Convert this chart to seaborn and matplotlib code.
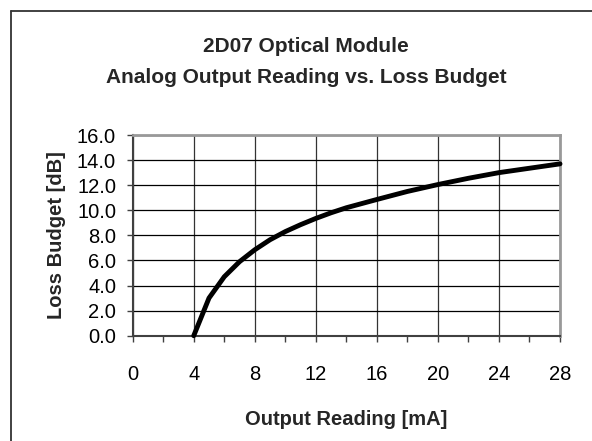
import numpy as np
import pandas as pd
import matplotlib
matplotlib.use("Agg")
import matplotlib.pyplot as plt
from matplotlib.lines import Line2D
import seaborn as sns

# Data
output_ma = [4, 5, 6, 7, 8, 9, 10, 11, 12, 13, 14, 16, 18, 20, 22, 24, 26, 28]
loss_db = [0.0, 3.0, 4.7, 5.9, 6.85, 7.65, 8.3, 8.85, 9.35, 9.8, 10.2,
           10.86, 11.5, 12.05, 12.55, 13.0, 13.35, 13.7]
x_ticks = [0, 4, 8, 12, 16, 20, 24, 28]
y_ticks = [0, 2, 4, 6, 8, 10, 12, 14, 16]
title_text = "2D07 Optical Module\nAnalog Output Reading vs. Loss Budget"
x_label = "Output Reading [mA]"
y_label = "Loss Budget [dB]"

sns.set_theme(style="white")
plt.rcParams['font.family'] = ['Liberation Sans', 'DejaVu Sans']

fig = plt.figure(figsize=(5.92, 4.41), dpi=100)
W, H = 592, 441
left, right, top, bottom = 132.7, 560, 135, 335.7
ax = fig.add_axes([left / W, 1 - bottom / H, (right - left) / W, (bottom - top) / H])

df = pd.DataFrame({"x": output_ma, "y": loss_db})
sns.lineplot(data=df, x="x", y="y", ax=ax, color="black", linewidth=3.5,
             solid_joinstyle="miter", zorder=5, clip_on=False)

ax.set_xlim(0, 28)
ax.set_ylim(0, 16)
ax.set_xticks(x_ticks)
ax.set_xticks(np.arange(0, 29, 2), minor=True)
ax.set_yticks(y_ticks)
ax.set_yticklabels([f"{v:.1f}" for v in y_ticks])
ax.set_xticklabels([str(v) for v in x_ticks])

ax.yaxis.grid(True, color="black", linewidth=0.9)
ax.xaxis.grid(True, which="major", color="#333333", linewidth=0.9)
ax.set_axisbelow(True)

for side in ("left", "bottom"):
    ax.spines[side].set_color("#404040")
    ax.spines[side].set_linewidth(1.5)
for side in ("top", "right"):
    ax.spines[side].set_color("#999999")
    ax.spines[side].set_linewidth(2.0)
    ax.spines[side].set_visible(True)

ax.tick_params(axis="both", which="both", direction="out", color="#404040",
               width=1.0, labelsize=14.5, labelcolor="black")
ax.tick_params(axis="x", which="major", length=4, pad=17, bottom=True)
ax.tick_params(axis="x", which="minor", length=4, bottom=True)
ax.tick_params(axis="y", which="major", length=4, pad=8, left=True)

ax.set_xlabel(x_label, fontsize=14.5, fontweight="bold", labelpad=19)
ax.set_ylabel(y_label, fontsize=14.5, fontweight="bold", labelpad=8)

fig.text(306 / W, 1 - 62 / H, title_text, ha="center", va="center",
         fontsize=15, fontweight="bold", linespacing=1.75)

# Outer chart frame (top and left edges visible)
fig.add_artist(Line2D([10.5 / W, 10.5 / W], [0, 1 - 10.5 / H], transform=fig.transFigure,
                      color="#333333", linewidth=1.3))
fig.add_artist(Line2D([10.5 / W, 1], [1 - 10.5 / H, 1 - 10.5 / H], transform=fig.transFigure,
                      color="#333333", linewidth=1.3))

fig.savefig("out.png", dpi=100, facecolor="white")
